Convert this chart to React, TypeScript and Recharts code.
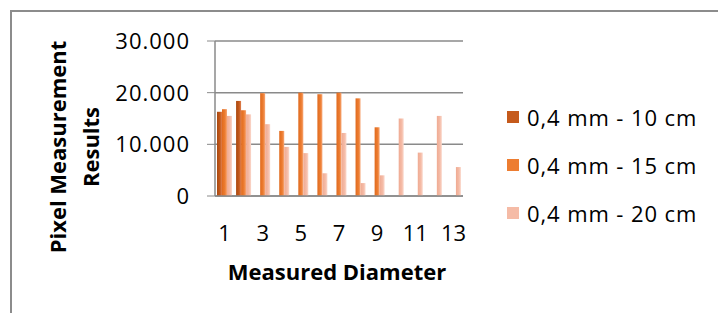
import React from 'react';
import { BarChart, Bar, XAxis, YAxis, CartesianGrid } from 'recharts';

const categories = ['1', '2', '3', '4', '5', '6', '7', '8', '9', '10', '11', '12', '13'];
const series10 = [16300, 18400, 0, 0, 0, 0, 0, 0, 0, 0, 0, 0, 0];
const series15 = [16800, 16600, 19900, 12600, 20000, 19700, 20000, 18900, 13300, 0, 0, 0, 0];
const series20 = [15500, 15800, 13900, 9500, 8300, 4400, 12200, 2500, 4000, 15000, 8400, 15500, 5600];
const yTicks = [0, 10000, 20000, 30000];
const seriesNames = ['0,4 mm - 10 cm', '0,4 mm - 15 cm', '0,4 mm - 20 cm'];
const seriesColors = ['#C55A1C', '#ED7D31', '#F5BBA6'];

const data = categories.map((c, i) => ({
  name: c,
  s10: series10[i],
  s15: series15[i],
  s20: series20[i],
}));

const FONT = '"Open Sans", "Liberation Sans", sans-serif';

const fmt = (v: number) => (v === 0 ? '0' : v.toLocaleString('de-DE'));

const XTick = (props: any) => {
  const { x, y, payload } = props;
  return (
    <text x={x} y={y + 43} textAnchor="middle" fontFamily={FONT} fontSize={22} fill="#000">
      {payload.value}
    </text>
  );
};

const YTick = (props: any) => {
  const { x, y, payload } = props;
  return (
    <text x={x - 15} y={y + 8} textAnchor="end" fontFamily={FONT} fontSize={22} letterSpacing={1} fill="#000">
      {fmt(payload.value)}
    </text>
  );
};

const LegendBox = () => (
  <div style={{ position: 'absolute', left: 507, top: 93, fontFamily: FONT, fontSize: 22, letterSpacing: 0.9, color: '#000' }}>
    {seriesNames.map((n, i) => (
      <div key={n} style={{ display: 'flex', alignItems: 'center', height: 48 }}>
        <span style={{ display: 'inline-block', width: 12, height: 12, background: seriesColors[i], marginRight: 8 }} />
        <span>{n}</span>
      </div>
    ))}
  </div>
);

export default function App() {
  return (
    <div style={{ position: 'absolute', left: 0, top: 0, width: 718, height: 313, background: '#fff', overflow: 'hidden' }}>
      <div style={{ position: 'absolute', left: 10, top: 10, width: 720, height: 320, borderTop: '2px solid #8c8c8c', borderLeft: '2px solid #8c8c8c' }} />
      <div style={{ position: 'absolute', left: 0, top: 0 }}>
        <BarChart
          width={718}
          height={313}
          data={data}
          margin={{ top: 41, right: 255, left: 0, bottom: 67 }}
          barGap={0}
          barSize={5}
        >
          <defs>
            <linearGradient id="g10" x1="0" y1="0" x2="1" y2="0">
              <stop offset="0%" stopColor="#A9480F" />
              <stop offset="60%" stopColor="#C55A1C" />
              <stop offset="100%" stopColor="#E08050" />
            </linearGradient>
            <linearGradient id="g15" x1="0" y1="0" x2="1" y2="0">
              <stop offset="0%" stopColor="#E06A1E" />
              <stop offset="60%" stopColor="#ED7D31" />
              <stop offset="100%" stopColor="#F7A878" />
            </linearGradient>
            <linearGradient id="g20" x1="0" y1="0" x2="1" y2="0">
              <stop offset="0%" stopColor="#EFAA92" />
              <stop offset="60%" stopColor="#F5BBA6" />
              <stop offset="100%" stopColor="#FAD8CC" />
            </linearGradient>
          </defs>
          <CartesianGrid vertical={false} stroke="#8a8a8a" strokeWidth={1.5} />
          <XAxis
            dataKey="name"
            interval={1}
            tick={<XTick />}
            tickLine={false}
            tickSize={0}
            height={50}
            axisLine={{ stroke: '#8a8a8a', strokeWidth: 1.5 }}
          />
          <YAxis
            domain={[0, 30000]}
            ticks={yTicks}
            width={215}
            tick={<YTick />}
            tickSize={8}
            tickLine={{ stroke: '#8a8a8a' }}
            axisLine={{ stroke: '#8a8a8a', strokeWidth: 1.5 }}
          />
          <Bar dataKey="s10" name={seriesNames[0]} fill="url(#g10)" isAnimationActive={false} />
          <Bar dataKey="s15" name={seriesNames[1]} fill="url(#g15)" isAnimationActive={false} />
          <Bar dataKey="s20" name={seriesNames[2]} fill="url(#g20)" isAnimationActive={false} />
          <text transform="rotate(-90)" textAnchor="middle" fontFamily={FONT} fontWeight="bold" fontSize={22} fill="#000">
            <tspan x={-147} y={66}>Pixel Measurement</tspan>
            <tspan x={-147} y={99}>Results</tspan>
          </text>
          <text x={337} y={280} textAnchor="middle" fontFamily={FONT} fontWeight="bold" fontSize={22} fill="#000">
            Measured Diameter
          </text>
        </BarChart>
      </div>
      <LegendBox />
    </div>
  );
}
